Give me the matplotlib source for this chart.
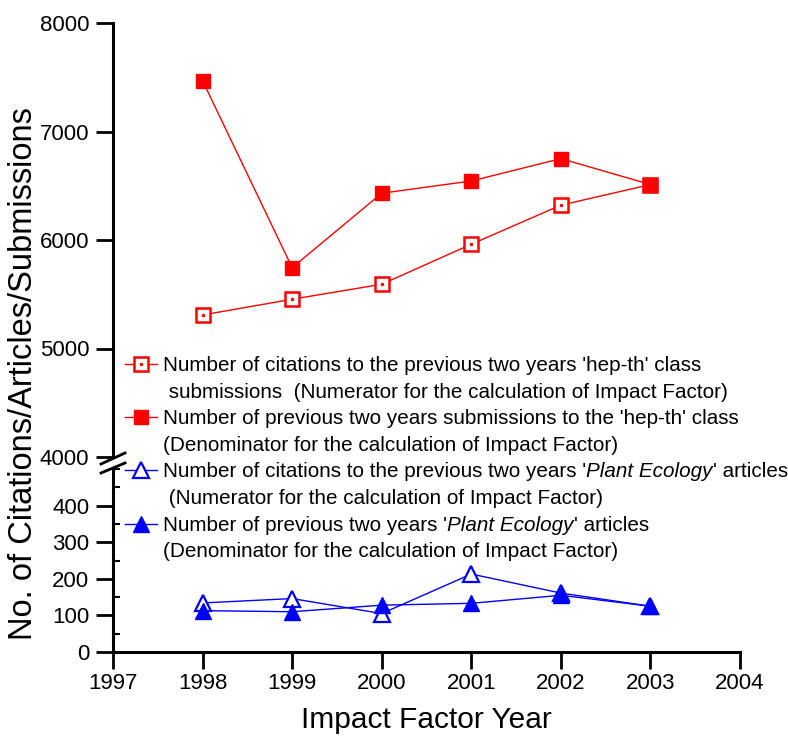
import matplotlib
matplotlib.use("Agg")
import matplotlib.pyplot as plt
from matplotlib.lines import Line2D
from matplotlib.ticker import MultipleLocator

plt.rcParams['font.family'] = ['Liberation Sans', 'DejaVu Sans']

years = [1998, 1999, 2000, 2001, 2002, 2003]
hep_citations = [5309, 5454, 5592, 5961, 6321, 6511]
hep_submissions = [7468, 5745, 6431, 6544, 6750, 6511]
pe_citations = [134, 146, 105, 213, 161, 125]
pe_articles = [113, 110, 128, 133, 155, 125]

# legend rows: list of (text, italic) segments
legend_rows = [
    [("Number of citations to the previous two years 'hep-th' class", False)],
    [(" submissions  (Numerator for the calculation of Impact Factor)", False)],
    [("Number of previous two years submissions to the 'hep-th' class", False)],
    [("(Denominator for the calculation of Impact Factor)", False)],
    [("Number of citations to the previous two years '", False),
     ("Plant Ecology", True), ("' articles", False)],
    [(" (Numerator for the calculation of Impact Factor)", False)],
    [("Number of previous two years '", False), ("Plant Ecology", True),
     ("' articles", False)],
    [("(Denominator for the calculation of Impact Factor)", False)],
]

W, H = 788, 738
fig = plt.figure(figsize=(W / 100, H / 100), dpi=100)

def fx(px):
    return px / W

def fy(py):
    return (H - py) / H

left = fx(113)
width = fx(740) - left
ax_up = fig.add_axes([left, fy(457), width, fy(23) - fy(457)])
ax_lo = fig.add_axes([left, fy(652), width, fy(469) - fy(652)])

RED = '#ff0000'
BLUE = '#0000ff'
lw = 1.0

l1, = ax_up.plot(years, hep_citations, color=RED, lw=lw, marker='s', ms=9.5,
                 mfc='white', mec=RED, mew=1.8, zorder=3)
l1d, = ax_up.plot(years, hep_citations, color=RED, lw=0, marker='o', ms=1.5,
                  mfc=RED, mec=RED, zorder=4)
l2, = ax_up.plot(years, hep_submissions, color=RED, lw=lw, marker='s', ms=10.5,
                 mfc=RED, mec=RED, zorder=3)
l3, = ax_lo.plot(years, pe_citations, color=BLUE, lw=lw, marker='^', ms=11,
                 mfc='white', mec=BLUE, mew=1.6, zorder=3)
l4, = ax_lo.plot(years, pe_articles, color=BLUE, lw=lw, marker='^', ms=11,
                 mfc=BLUE, mec=BLUE, zorder=3)

for ax in (ax_up, ax_lo):
    ax.set_xlim(1997, 2004)
    ax.spines['top'].set_visible(False)
    ax.spines['right'].set_visible(False)
    ax.spines['left'].set_linewidth(2.2)
    ax.spines['bottom'].set_linewidth(2.2)
    ax.patch.set_visible(False)
    ax.tick_params(axis='y', which='major', direction='out', length=12, width=2,
                   labelsize=16, pad=5)

ax_up.set_ylim(4000, 8000)
ax_up.set_yticks([4000, 5000, 6000, 7000, 8000])
ax_up.spines['bottom'].set_visible(False)
ax_up.tick_params(axis='x', which='both', bottom=False, labelbottom=False)

ax_lo.set_ylim(0, 500)
ax_lo.set_yticks([0, 100, 200, 300, 400])
ax_lo.yaxis.set_minor_locator(MultipleLocator(50))
ax_lo.tick_params(axis='y', which='minor', direction='in', length=5, width=1.5)
ax_lo.set_xticks(list(range(1997, 2005)))
ax_lo.tick_params(axis='x', which='major', direction='out', length=12, width=2,
                  labelsize=16, pad=3)
ax_lo.set_xlabel('Impact Factor Year', fontsize=21.5, labelpad=9)

fig.text(fx(24), fy(374), 'No. of Citations/Articles/Submissions', rotation=90,
         fontsize=23.5, ha='center', va='center')

# axis break marks
for (x0, y0, x1, y1) in [(101, 464, 125, 453), (101, 473, 125, 463)]:
    fig.add_artist(Line2D([fx(x0), fx(x1)], [fy(y0), fy(y1)], color='black',
                          lw=2, transform=fig.transFigure))

# legend built by hand (handles aligned with the first line of each label)
fig.canvas.draw()
renderer = fig.canvas.get_renderer()
LEG_FS = 14.9
row_gap = 26.6
first_center = 364
series_handles = {0: [l1, l1d], 2: [l2], 4: [l3], 6: [l4]}
for i, segs in enumerate(legend_rows):
    yc = first_center + i * row_gap
    if i in series_handles:
        for src in series_handles[i]:
            h = Line2D([fx(125), fx(141), fx(157)], [fy(yc)] * 3)
            h.update_from(src)
            h.set_transform(fig.transFigure)
            h.set_markevery([1])
            h.set_clip_on(False)
            fig.add_artist(h)
    x = fx(163)
    for text, italic in segs:
        t = fig.text(x, fy(yc + 7.0), text, fontsize=LEG_FS, va='baseline',
                     ha='left', style='italic' if italic else 'normal')
        bb = t.get_window_extent(renderer=renderer)
        x = bb.x1 / W

fig.savefig('out.png', dpi=100)
